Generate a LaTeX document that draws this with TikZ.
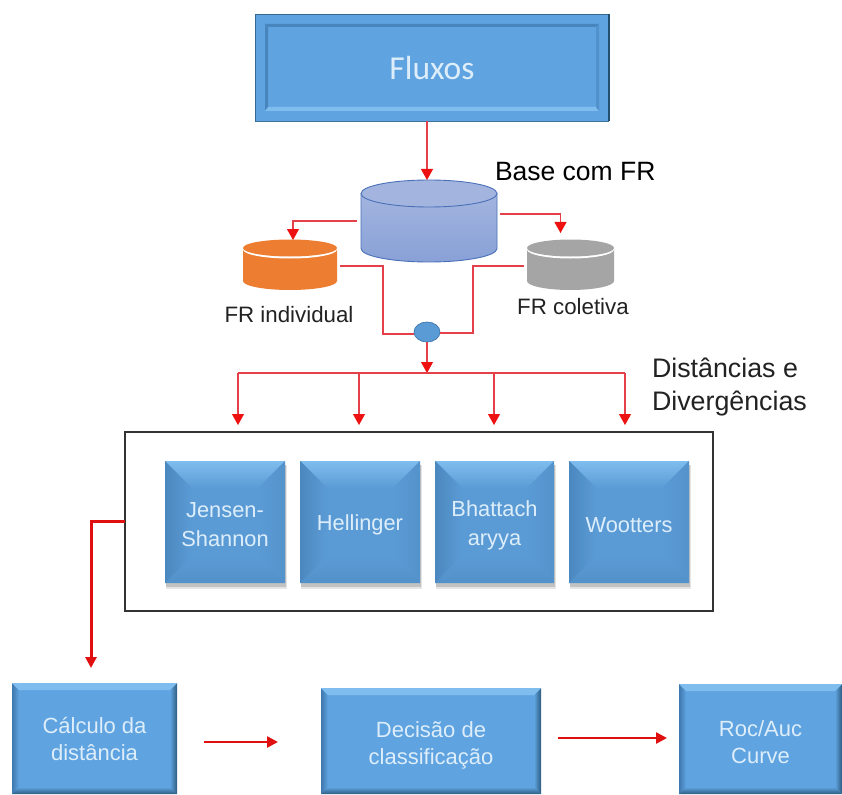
\documentclass[tikz,border=0pt]{standalone}
\usepackage{fontspec}
\setmainfont{Liberation Sans}
\newfontfamily\calfont{Carlito}
\usetikzlibrary{arrows.meta,calc}
\definecolor{boxblue}{HTML}{5FA3E0}
\definecolor{midblue}{HTML}{5B9BD5}
\definecolor{lightblue}{HTML}{7FBDEE}
\definecolor{darkblue}{HTML}{3F78AE}
\definecolor{edgeblue}{HTML}{24506F}
\definecolor{linered}{HTML}{E5404A}
\definecolor{tipred}{HTML}{EE1111}
\definecolor{thickred}{HTML}{E01010}
\definecolor{cylblue}{HTML}{8FA6DA}
\definecolor{cyltop}{HTML}{A3B5DF}
\definecolor{cyledge}{HTML}{4A70B8}
\definecolor{cylorange}{HTML}{ED7D31}
\definecolor{cylgray}{HTML}{A5A5A5}
\definecolor{txt}{HTML}{222222}
\definecolor{paletext}{HTML}{DDEEFA}
\tikzset{
  hit/.style={inner sep=0pt,outer sep=0pt},
  redline/.style={draw=linered,line width=1.1pt,-{Triangle[length=11pt,width=12pt,color=tipred]}},
  rednotip/.style={draw=linered,line width=1.1pt},
  boldred/.style={draw=thickred,line width=2.5pt,-{Triangle[length=11pt,width=11pt]}},
  boxtext/.style={hit,text=paletext,font=\fontsize{21.8}{29}\selectfont,align=center},
  lowtext/.style={hit,text=paletext,font=\fontsize{22}{27}\selectfont,align=center},
  label/.style={hit,text=txt,font=\fontsize{22.3}{28}\selectfont},
  biglabel/.style={hit,text=black,font=\fontsize{26.5}{33}\selectfont,align=left},
}
% square distance box with wide bevel: name, x1,y1,x2,y2, text
\newcommand{\squarebox}[6]{%
  \fill[black,opacity=.10] (#2+1,#3+4) rectangle (#4+2,#5+6);
  \fill[black,opacity=.15] (#2+1,#3+4) rectangle (#4+1,#5+4);
  \fill[midblue] (#2,#3) rectangle (#4,#5);
  \shade[top color=lightblue,bottom color=midblue] (#2,#3) -- (#4,#3) -- (#4-27,#3+27) -- (#2+27,#3+27) -- cycle;
  \shade[left color=darkblue!55!midblue,right color=midblue] (#2,#3) -- (#2+27,#3+27) -- (#2+27,#5-27) -- (#2,#5) -- cycle;
  \shade[left color=midblue,right color=darkblue!25!midblue] (#4,#3) -- (#4-27,#3+27) -- (#4-27,#5-27) -- (#4,#5) -- cycle;
  \shade[top color=midblue,bottom color=darkblue!30!midblue] (#2,#5) -- (#4,#5) -- (#4-27,#5-27) -- (#2+27,#5-27) -- cycle;
  \node[boxtext,minimum width=#4pt-#2pt,minimum height=#5pt-#3pt,yshift=-3pt] (#1) at ({(#2+#4)/2},{(#3+#5)/2}) {#6};
}
% low process box with narrow bevel: name, x1,y1,x2,y2, text, text shift
\newcommand{\lowbox}[7]{%
  \fill[boxblue] (#2,#3) rectangle (#4,#5);
  \shade[left color=darkblue,right color=boxblue] (#2,#3) -- (#2+7,#3+7) -- (#2+7,#5-7) -- (#2,#5) -- cycle;
  \shade[left color=boxblue,right color=edgeblue!85!boxblue] (#4,#3) -- (#4-7,#3+7) -- (#4-7,#5-7) -- (#4,#5) -- cycle;
  \shade[top color=boxblue,bottom color=edgeblue!85!boxblue] (#2,#5) -- (#4,#5) -- (#4-7,#5-7) -- (#2+7,#5-7) -- cycle;
  \fill[lightblue] (#2,#3) -- (#4,#3) -- (#4-7,#3+7) -- (#2+7,#3+7) -- cycle;
  \node[lowtext,minimum width=#4pt-#2pt,minimum height=#5pt-#3pt,yshift=#7pt] (#1) at ({(#2+#4)/2},{(#3+#5)/2}) {#6};
}
\begin{document}
\begin{tikzpicture}[x=1pt,y=-1pt]
\useasboundingbox (0,0) rectangle (842,794);
\fill[white] (0,0) rectangle (842,794);

% --- Fluxos
\fill[boxblue] (255,14) rectangle (609,121);
\fill[darkblue!70!boxblue] (265,24) -- (599,24) -- (596,27) -- (268,27) -- cycle;
\fill[darkblue!70!boxblue] (265,24) -- (268,27) -- (268,108) -- (265,111) -- cycle;
\fill[lightblue] (265,111) -- (599,111) -- (596,107) -- (268,107) -- cycle;
\fill[darkblue!40!boxblue] (599,24) -- (599,111) -- (596,107) -- (596,27) -- cycle;
\draw[edgeblue!70!boxblue,line width=.8pt] (255,121) -- (255,14) -- (609,14);
\draw[edgeblue!60!boxblue,line width=.8pt] (255,121) -- (609,121);
\draw[edgeblue,line width=1.4pt] (609,14) -- (609,121);
\node[hit,text=paletext,font=\calfont\fontsize{33.5}{38}\selectfont,minimum width=354pt,minimum height=107pt] (fluxos) at (432,67.5) {Fluxos};

% --- Big cylinder
\node[hit,minimum width=136pt,minimum height=82pt] (base) at (429,221) {};
\shade[top color=cyltop,bottom color=cylblue!90!cyledge] (361,193.5) -- (361,248.5) arc[start angle=180,end angle=360,x radius=68,y radius=-13.5] -- (497,193.5) -- cycle;
\draw[cyledge,line width=.9pt] (361,193.5) -- (361,248.5) arc[start angle=180,end angle=360,x radius=68,y radius=-13.5] -- (497,193.5);
\filldraw[fill=cyltop,draw=cyledge,line width=.9pt] (429,193.5) ellipse[x radius=68,y radius=13.5];
\node[biglabel,anchor=west] (baselabel) at (495,172) {Base com FR};

% --- Orange cylinder
\node[hit,minimum width=94pt,minimum height=50pt] (indiv) at (290,265) {};
\fill[cylorange] (243,249) -- (243,281) arc[start angle=180,end angle=360,x radius=47,y radius=-9] -- (337,249) -- cycle;
\fill[white] (290,249.5) ellipse[x radius=47,y radius=9];
\fill[cylorange] (290,248) ellipse[x radius=47,y radius=8.5];
\node[label] (indivlabel) at (289,315) {FR individual};

% --- Grey cylinder
\node[hit,minimum width=87pt,minimum height=50pt] (colet) at (570.5,265) {};
\fill[cylgray] (527,249) -- (527,281) arc[start angle=180,end angle=360,x radius=43.5,y radius=-9] -- (614,249) -- cycle;
\fill[white] (570.5,249.5) ellipse[x radius=43.5,y radius=9];
\fill[cylgray] (570.5,248) ellipse[x radius=43.5,y radius=8.5];
\node[label] (coletlabel) at (573,307) {FR coletiva};

% --- Merge ellipse
\node[hit,minimum width=26pt,minimum height=20pt] (merge) at (427,332) {};
\filldraw[fill=midblue,draw=darkblue,line width=.7pt] (427,332) ellipse[x radius=13,y radius=10];

% --- Bus coordinates
\coordinate (bus) at (427,373);
\coordinate (busA) at (238,373);
\coordinate (busB) at (359,373);
\coordinate (busC) at (494,373);
\coordinate (busD) at (625,373);
\coordinate (dropA) at (238,425);
\coordinate (dropB) at (359,425);
\coordinate (dropC) at (494,425);
\coordinate (dropD) at (625,425);

\node[biglabel,anchor=north west,text=txt,font=\fontsize{26.8}{33}\selectfont] (distlabel) at (652,358) {Distâncias e\\Divergências};

% --- Outer frame and distance boxes
\node[draw=black!80,line width=1.1pt,hit,minimum width=588pt,minimum height=179pt] (frame) at (419,521.5) {};
\squarebox{js}{165}{461}{285}{583}{Jensen-\\Shannon}
\squarebox{hell}{300}{461}{420}{583}{Hellinger}
\squarebox{bhat}{435}{461}{554}{583}{Bhattach\\aryya}
\squarebox{woot}{569}{461}{689}{583}{Wootters}

% --- Bottom row
\lowbox{calc}{12}{683}{177}{794}{Cálculo da\\distância}{0}
\lowbox{decis}{321}{688}{541}{794}{Decisão de\\classificação}{-4}
\lowbox{roc}{679}{684}{842}{794}{Roc/Auc\\Curve}{-3}

% --- Connectors
\draw[redline] ([xshift=-5pt]fluxos.south) -- ([xshift=-5pt]fluxos.south |- base.north);
\draw[redline] ([xshift=-4pt]base.west) -| ([xshift=3pt]indiv.north);
\draw[redline] ([xshift=3pt,yshift=7pt]base.east) -| ([xshift=-10pt,yshift=7pt]colet.north);
\draw[rednotip] ([xshift=3pt,yshift=-1pt]indiv.east) -- ++(43,0) |- ([yshift=-2pt]merge.west);
\draw[rednotip] ([xshift=-3pt,yshift=-1pt]colet.west) -- ++(-51,0) |- ([yshift=-1pt]merge.east);
\draw[redline] (merge.south) -- (bus);
\draw[rednotip] (busA) -- (busD);
\draw[redline] (busA) -- (dropA);
\draw[redline] (busB) -- (dropB);
\draw[redline] (busC) -- (dropC);
\draw[redline] (busD) -- (dropD);
\draw[boldred,line width=3pt] (frame.west) -- ++(-34,0) -- ([xshift=-3.5pt,yshift=15pt]calc.north);
\draw[boldred] ([xshift=27pt,yshift=-3.5pt]calc.east) -- ([xshift=-43pt,yshift=-3.5pt]calc.east -| decis.west);
\draw[boldred] ([xshift=17pt,yshift=7pt]decis.east) -- ([xshift=-12pt,yshift=7pt]decis.east -| roc.west);
\end{tikzpicture}
\end{document}
